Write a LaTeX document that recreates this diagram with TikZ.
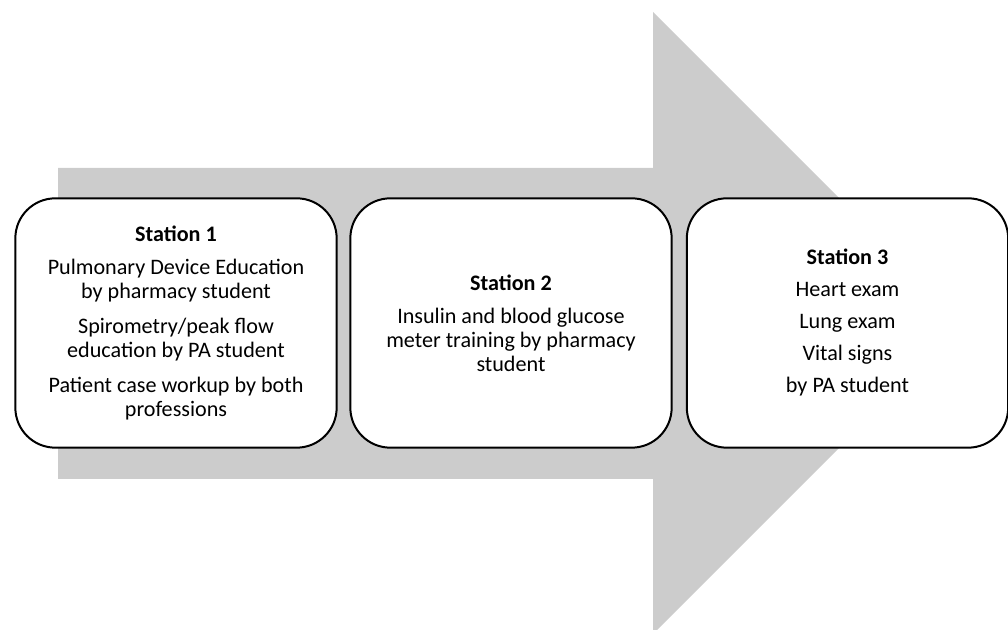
\documentclass[tikz,border=0pt]{standalone}
\usepackage{fontspec}
\setmainfont{Carlito}
\usepackage{tikz}
\definecolor{arrowgray}{RGB}{204,204,204}

\tikzset{
	station/.style={draw=black, line width=1.5pt, fill=white, rounded corners=30pt,
		minimum width=241pt, minimum height=187pt, align=center,
		font=\fontsize{16.6}{18}\selectfont}
}

\begin{document}
\begin{tikzpicture}[x=0.75pt,y=-0.75pt]

	\useasboundingbox (0,0) rectangle (1008,630);
	\clip (0,0) rectangle (1008,630);

	\fill[arrowgray] (58,168) -- (653,168) -- (653,12) -- (964,323)
		-- (653,634) -- (653,479) -- (58,479) -- cycle;

	\node[station] (st1) at (176,323) {\textbf{Station 1}\\[7pt]
		Pulmonary Device Education\\ by pharmacy student\\[8pt]
		Spirometry/peak flow\\ education by PA student\\[8pt]
		Patient case workup by both\\ professions};
	\node[station] (st2) at (511,323) {\textbf{Station 2}\\[7pt]
		Insulin and blood glucose\\ meter training by pharmacy\\ student};
	\node[station] (st3) at (847.5,323) {\textbf{Station 3}\\[6pt]
		Heart exam\\[6pt] Lung exam\\[6pt] Vital signs\\[6pt] by PA student};

\end{tikzpicture}
\end{document}
